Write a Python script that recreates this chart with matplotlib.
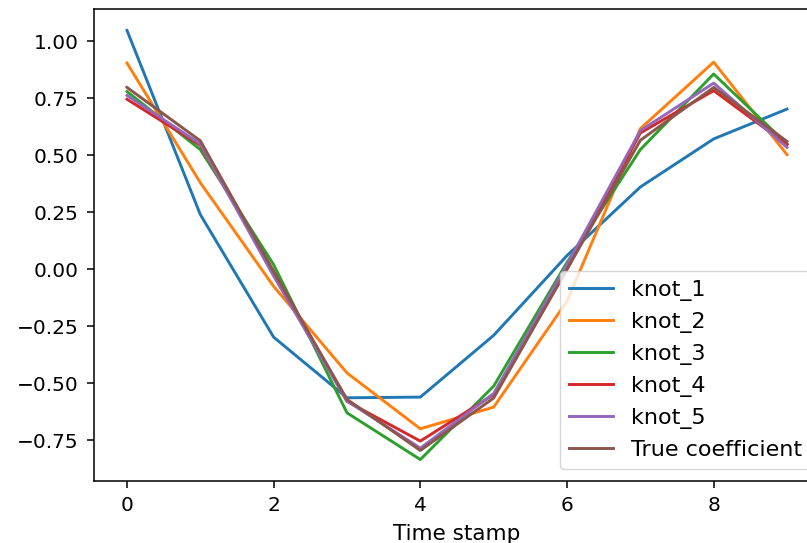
import matplotlib
matplotlib.use("Agg")
import matplotlib.pyplot as plt

# time stamps and estimated coefficients per knot
time_stamp = [0, 1, 2, 3, 4, 5, 6, 7, 8, 9]
knot_1 = [1.048, 0.24, -0.298, -0.564, -0.561, -0.29, 0.06, 0.361, 0.572, 0.703]
knot_2 = [0.905, 0.38, -0.075, -0.455, -0.70, -0.605, -0.14, 0.617, 0.909, 0.503]
knot_3 = [0.78, 0.525, 0.02, -0.63, -0.835, -0.513, 0.03, 0.525, 0.857, 0.55]
knot_4 = [0.746, 0.544, -0.01, -0.58, -0.754, -0.55, 0.0, 0.598, 0.784, 0.547]
knot_5 = [0.763, 0.55, -0.03, -0.578, -0.785, -0.545, 0.02, 0.608, 0.817, 0.535]
true_coef = [0.798, 0.564, -0.01, -0.571, -0.795, -0.565, 0.0, 0.566, 0.798, 0.561]

series = [("knot_1", knot_1), ("knot_2", knot_2), ("knot_3", knot_3),
          ("knot_4", knot_4), ("knot_5", knot_5), ("True coefficient", true_coef)]

plt.rcParams["font.size"] = 14.5
plt.rcParams["lines.linewidth"] = 2.1
plt.rcParams["axes.linewidth"] = 1.1
for ax_name in ("xtick", "ytick"):
    plt.rcParams[ax_name + ".major.size"] = 5
    plt.rcParams[ax_name + ".major.width"] = 1.1
plt.rcParams["ytick.major.pad"] = 6
plt.rcParams["xtick.major.pad"] = 6

fig = plt.figure(figsize=(8.07, 5.43), dpi=100)
# axes run past the right edge of the canvas
ax = fig.add_axes([94 / 807, 62 / 543, 726 / 807, 472 / 543])

for name, vals in series:
    ax.plot(time_stamp, vals, label=name)

ax.set_xticks([0, 2, 4, 6, 8])
ax.set_yticks([-0.75, -0.5, -0.25, 0.0, 0.25, 0.5, 0.75, 1.0])
ax.set_xlabel("Time stamp", fontsize=15.5, labelpad=6)
ax.legend(loc="lower right", bbox_to_anchor=(0.988, 0.0254),
          borderaxespad=0, fontsize=16)

fig.savefig("out.png", dpi=100)
